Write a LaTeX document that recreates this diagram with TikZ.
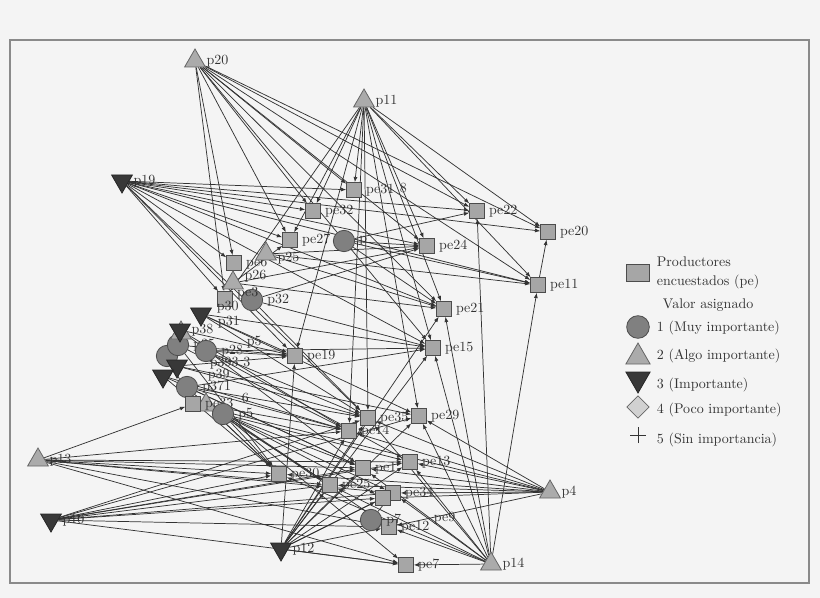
\documentclass[tikz,border=0pt]{standalone}
\usetikzlibrary{shapes.geometric,arrows.meta,backgrounds}
\definecolor{bggray}{HTML}{F4F4F4}
\definecolor{framegray}{HTML}{8A8A8A}
\definecolor{inkgray}{HTML}{333333}
\tikzset{
  sq/.style={rectangle, draw=black!70, fill=black!35, minimum size=11pt, inner sep=0pt, line width=0.6pt},
  circ/.style={circle, draw=black!70, fill=black!50, minimum size=16pt, inner sep=0pt, line width=0.6pt},
  tup/.style={regular polygon, regular polygon sides=3, draw=black!60, fill=black!33, minimum size=18pt, inner sep=0pt, line width=0.6pt},
  tdown/.style={tup, shape border rotate=180, draw=black!85, fill=black!78},
  dia/.style={diamond, draw=black!60, fill=black!18, minimum size=17pt, inner sep=0pt, line width=0.6pt},
  lbl/.style={font=\fontsize{10.5}{12}\selectfont, text=inkgray, inner sep=0.5pt},
  conn/.style={draw=inkgray, line width=0.55pt, -{Latex[length=4pt,width=3pt]}},
  every label/.style={label distance=2.5pt}
}
\begin{document}
\begin{tikzpicture}[x=0.75pt,y=-0.75pt]
\useasboundingbox (0,0) rectangle (820,598);
\begin{pgfonlayer}{background}
  \fill[bggray] (0,0) rectangle (820,598);
  \draw[framegray, line width=0.8pt] (10,40) rectangle (809,583);
\end{pgfonlayer}

\draw node[sq, label={[lbl]right:pe31}] (pe31) at (354,190) {};
\draw node[sq, label={[lbl]right:pe32}] (pe32) at (313,211) {};
\draw node[sq, label={[lbl]right:pe22}] (pe22) at (477,211) {};
\draw node[sq, label={[lbl]right:pe20}] (pe20) at (548,232) {};
\draw node[sq, label={[lbl]right:pe27}] (pe27) at (290,240) {};
\draw node[sq, label={[lbl]right:pe24}] (pe24) at (427,246) {};
\draw node[sq, label={[lbl]right:pe6}] (pe6) at (234,263) {};
\draw node[sq, label={[lbl]right:pe11}] (pe11) at (538,285) {};
\draw node[sq, label={[lbl]right:pe21}] (pe21) at (444,309) {};
\draw node[sq, label={[lbl]right:pe15}] (pe15) at (433,348) {};
\draw node[sq, label={[lbl]right:pe19}] (pe19) at (295,356) {};
\draw node[sq, label={[lbl]right:pe35}] (pe35) at (368,418) {};
\draw node[sq, label={[lbl]right:pe29}] (pe29) at (419,416) {};
\draw node[sq, label={[lbl]right:pe14}] (pe14) at (349,431) {};
\draw node[sq, label={[lbl]right:pe13}] (pe13) at (410,462) {};
\draw node[sq, label={[lbl]right:pe1}] (pe1) at (363,468) {};
\draw node[sq, label={[lbl]right:pe30}] (pe30) at (279,474) {};
\draw node[sq, label={[lbl]right:pe25}] (pe25) at (330,485) {};
\draw node[sq, label={[lbl]right:pe34}] (pe34) at (393,493) {};
\draw node[sq] (pe9) at (383,498) {};
\draw node[sq, label={[lbl]right:pe12}] (pe12) at (389,527) {};
\draw node[sq, label={[lbl]right:pe7}] (pe7) at (406,565) {};

\draw node[circ, label={[lbl]right:p}] (p2) at (344,241) {};
\draw node[circ, label={[lbl]right:p32}] (p32) at (252,300) {};
\draw node[sq, label={[lbl,yshift=4pt]right:pe3}] (pe3) at (225,299) {};
\draw node[circ] (p33) at (167,356) {};
\draw node[circ, label={[lbl]right:p35}] (p35) at (178,345) {};
\draw node[circ, label={[lbl]right:p28}] (p28) at (206,351) {};
\draw node[circ, label={[lbl]right:p371}] (p37) at (187,387) {};

\draw node[tup, label={[lbl]right:p20}] (p20) at (195,61) {};
\draw node[tup, label={[lbl]right:p11}] (p11) at (364,101) {};
\draw node[tup, label={[lbl,yshift=5pt]right:p26}] (p26) at (233,283) {};
\draw node[tup, label={[lbl,yshift=-3pt]right:p25}] (p25) at (266,254) {};
\draw node[tup] (p38b) at (181,333) {};
\draw node[tup] (p36) at (206,405) {};
\draw node[sq, label={[lbl]right:pe33}] (pe33) at (193,404) {};
\draw node[circ, label={[lbl]right:p5}] (p5) at (223,414) {};
\draw node[circ, label={[lbl]right:p7}] (p7) at (371,520) {};
\draw node[tup, label={[lbl]right:p13}] (p13) at (38,460) {};
\draw node[tup, label={[lbl]right:p4}] (p4) at (550,492) {};
\draw node[tup, label={[lbl]right:p14}] (p14) at (491,564) {};

\draw node[tdown, label={[lbl]right:p19}] (p19) at (122,181) {};
\draw node[tdown, label={[lbl,yshift=-6pt,xshift=4pt]right:p31}] (p31) at (201,314) {};
\draw node[tdown, label={[lbl]right:p38}] (p38) at (180,330) {};
\draw node[tdown] (p39) at (177,366) {};
\draw node[tdown] (p3) at (163,376) {};
\draw node[tdown, label={[lbl]right:p10}] (p10) at (51,520) {};
\draw node[tdown, label={[lbl]right:p12}] (p12) at (281,549) {};

\node[lbl, anchor=west] (t8) at (399,188) {8};
\node[lbl, anchor=west] (tp30) at (216,307) {p30};
\node[lbl, anchor=west] (tp5) at (246,342) {p5};
\node[lbl, anchor=west] (tp393) at (209,363) {p393 3};
\node[lbl, anchor=west] (tp39) at (207,375) {p39};
\node[lbl, anchor=west] (t6) at (241,398) {6};
\node[lbl, anchor=west] (tpe9) at (433,518) {pe9};

\begin{pgfonlayer}{background}
\begin{scope}[every edge/.style={conn}]
\path (p20) edge (pe6) edge (pe3) edge (pe27) edge (pe32) edge (pe31) edge (pe22) edge (pe20) edge (pe24) edge (pe21) edge (pe11) edge (pe15);
\path (p11) edge (pe27) edge (pe32) edge (pe31) edge (pe24) edge (pe21) edge (pe15) edge (pe35) edge (pe29) edge (pe22) edge (pe20) edge (pe11) edge (pe19) edge (pe14) edge (pe3);
\path (p19) edge (pe31) edge (pe22) edge (pe20) edge (pe32) edge (pe24) edge (pe27) edge (pe21) edge (pe11) edge (pe6) edge (pe3) edge (pe19) edge (pe35) edge (pe15);
\path (p13) edge (pe33) edge (pe14) edge (pe30) edge (pe25) edge (pe1) edge (pe34) edge (pe12) edge (pe7) edge (pe13);
\path (p10) edge (pe29) edge (pe30) edge (pe25) edge (pe1) edge (pe34) edge (pe9) edge (pe12) edge (pe7) edge (pe13) edge (pe35);
\path (p12) edge (pe19) edge (pe14) edge (pe35) edge (pe25) edge (pe1) edge (pe29) edge (pe15) edge (pe21) edge (pe34) edge (pe12) edge (pe7) edge (pe13) edge (pe9);
\path (p4) edge (pe30) edge (pe25) edge (pe1) edge (pe13) edge (pe34) edge (pe9) edge (pe12) edge (pe14) edge (pe35) edge (pe33) edge (pe29);
\path (p14) edge (pe11) edge (pe22) edge (pe21) edge (pe15) edge (pe29) edge (pe35) edge (pe13) edge (pe1) edge (pe25) edge (pe34) edge (pe12) edge (pe7) edge (pe30);
\path (p32) edge (pe24) edge (pe15) edge (pe35);
\path (p26) edge (pe24) edge (pe21) edge (pe27);
\path (p25) edge (pe24) edge (pe11) edge (pe21);
\path (p2) edge (pe24) edge (pe22) edge (pe21) edge (pe11);
\path (p31) edge (pe19) edge (pe15) edge (pe35) edge (pe29);
\path (p38) edge (pe19) edge (pe14) edge (pe1);
\path (p35) edge (pe19) edge (pe30) edge (pe14);
\path (p28) edge (pe19) edge (pe15) edge (pe13) edge (pe35);
\path (p39) edge (pe19) edge (pe29) edge (pe35);
\path (p3) edge (pe14) edge (pe1) edge (pe30);
\path (p33) edge (pe33);
\path (p37) edge (pe35) edge (pe14) edge (pe1) edge (pe30) edge (pe15);
\path (p5) edge (pe30) edge (pe25) edge (pe1) edge (pe13) edge (pe34) edge (pe9) edge (pe12) edge (pe7);
\path (p36) edge (pe14) edge (pe30) edge (pe25);
\path (p7) edge (pe12) edge (pe34);
\path (pe11) edge (pe20);
\end{scope}
\end{pgfonlayer}

\draw node[sq, minimum width=17pt, minimum height=13pt] (lgsq) at (638,273) {};
\node[lbl, anchor=west, align=left, font=\fontsize{10.5}{14}\selectfont] (lgpe) at (656,273) {Productores\\encuestados (pe)};
\node[lbl, anchor=west] (lgval) at (662,305) {Valor asignado};
\draw node[circ, minimum size=17pt] (lgc) at (638,327) {};
\node[lbl, anchor=west] (lg1) at (656,328) {1 (Muy importante)};
\draw node[tup, minimum size=21pt] (lgt) at (638,357) {};
\node[lbl, anchor=west] (lg2) at (656,356) {2 (Algo importante)};
\draw node[tdown, minimum size=21pt] (lgd) at (638,379) {};
\node[lbl, anchor=west] (lg3) at (656,385) {3 (Importante)};
\draw node[dia] (lgdia) at (638,407) {};
\node[lbl, anchor=west] (lg4) at (656,410) {4 (Poco importante)};
\coordinate (lgplus) at (638,435);
\draw[inkgray, line width=0.6pt] ([xshift=-6pt]lgplus) -- ([xshift=6pt]lgplus) ([yshift=-6pt]lgplus) -- ([yshift=6pt]lgplus);
\node[lbl, anchor=west] (lg5) at (656,440) {5 (Sin importancia)};
\end{tikzpicture}
\end{document}
